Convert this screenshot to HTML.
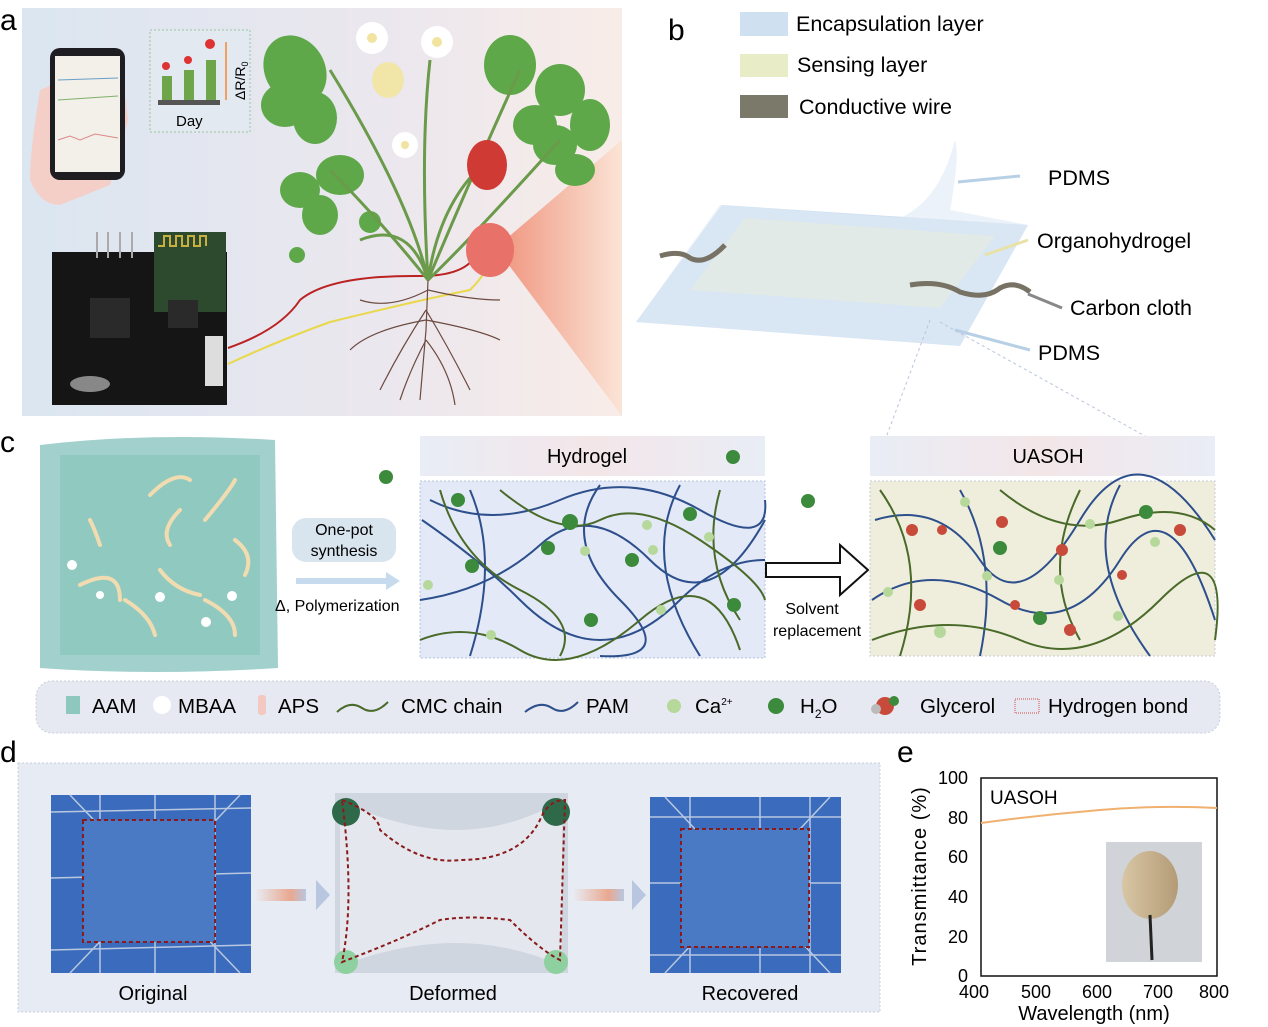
<!DOCTYPE html>
<html><head><meta charset="utf-8"><style>
html,body{margin:0;padding:0;background:#fff;}
svg{display:block;font-family:"Liberation Sans",Arial,sans-serif;}
</style></head><body>
<svg width="1268" height="1027" viewBox="0 0 1268 1027" xmlns="http://www.w3.org/2000/svg">
<defs>
<linearGradient id="abg" x1="0" x2="1" y1="0" y2="0"><stop offset="0" stop-color="#dbe6f1"/><stop offset="0.6" stop-color="#ebe7ee"/><stop offset="1" stop-color="#f8ece8"/></linearGradient>
<linearGradient id="cone" x1="0" x2="1"><stop offset="0" stop-color="#f08a70"/><stop offset="1" stop-color="#fbe3d3"/></linearGradient>
<linearGradient id="hdr" x1="0" x2="1"><stop offset="0" stop-color="#e9edf6"/><stop offset="0.5" stop-color="#f3e6e8"/><stop offset="1" stop-color="#e9edf6"/></linearGradient>
<linearGradient id="arr" x1="0" x2="1"><stop offset="0" stop-color="#e8eef6"/><stop offset="0.7" stop-color="#e9a890"/><stop offset="1" stop-color="#b8c6e0"/></linearGradient>
<linearGradient id="rose" x1="0" x2="1"><stop offset="0" stop-color="#d8c6a4"/><stop offset="1" stop-color="#b49b77"/></linearGradient>
</defs>

<!-- Panel a -->
<rect x="22" y="8" width="600" height="408" fill="url(#abg)"/>
<polygon points="505,240 622,140 622,416 505,260" fill="url(#cone)" opacity="0.85"/>
<text x="0" y="30" font-size="30">a</text>
<path d="M40,90 Q30,150 30,180 Q40,205 60,205 L110,185 L128,120 L120,55 Z" fill="#f4cfc8"/>
<rect x="50" y="48" width="75" height="132" rx="10" fill="#1e1e22"/>
<rect x="55" y="56" width="65" height="116" fill="#f3efe9"/>
<polyline points="58,80 118,78" stroke="#6a9ec8" stroke-width="1" fill="none"/>
<polyline points="58,100 118,96" stroke="#7fb16a" stroke-width="1" fill="none"/>
<polyline points="58,140 70,136 80,140 95,134 118,138" stroke="#d88" stroke-width="1" fill="none"/>
<g fill="#5fa84a">
<ellipse cx="295" cy="70" rx="30" ry="36" transform="rotate(-30 295 70)"/><ellipse cx="285" cy="105" rx="24" ry="22"/><ellipse cx="315" cy="118" rx="22" ry="26"/>
<ellipse cx="340" cy="175" rx="24" ry="20"/><ellipse cx="300" cy="190" rx="20" ry="18"/><ellipse cx="320" cy="215" rx="18" ry="20"/>
<ellipse cx="510" cy="65" rx="26" ry="30"/><ellipse cx="560" cy="90" rx="25" ry="26"/><ellipse cx="535" cy="125" rx="22" ry="20"/>
<ellipse cx="555" cy="145" rx="22" ry="20"/><ellipse cx="590" cy="125" rx="20" ry="26"/><ellipse cx="575" cy="170" rx="20" ry="16"/>
<circle cx="370" cy="222" r="11"/><circle cx="297" cy="255" r="8"/>
</g>
<rect x="150" y="30" width="100" height="102" fill="#e2e9f1" stroke="#9ac49a" stroke-dasharray="2,2"/>
<rect x="158" y="100" width="62" height="5" fill="#555"/>
<rect x="162" y="76" width="10" height="24" fill="#6ea44a"/>
<rect x="184" y="70" width="10" height="30" fill="#6ea44a"/>
<rect x="206" y="60" width="10" height="40" fill="#6ea44a"/>
<circle cx="166" cy="66" r="4" fill="#d33"/><circle cx="188" cy="60" r="4" fill="#d33"/><circle cx="210" cy="44" r="5" fill="#d33"/>
<line x1="226" y1="100" x2="226" y2="42" stroke="#f0a060" stroke-width="2"/>
<text x="176" y="126" font-size="15">Day</text>
<text transform="translate(245,100) rotate(-90)" font-size="14">ΔR/R<tspan font-size="9" dy="3">0</tspan></text>
<rect x="52" y="252" width="175" height="153" fill="#151515"/>
<rect x="154" y="232" width="72" height="80" fill="#2e4a2e"/>
<path d="M158,246 h6 v-10 h6 v10 h6 v-10 h6 v10 h6 v-10 h6 v10 h6 v-10 h6 v10" stroke="#c8b040" fill="none" stroke-width="2"/>
<rect x="90" y="298" width="40" height="40" fill="#2a2a2a"/>
<rect x="168" y="300" width="30" height="28" fill="#2a2a2a"/>
<ellipse cx="90" cy="384" rx="20" ry="8" fill="#888"/>
<rect x="205" y="336" width="18" height="50" fill="#ddd"/>
<line x1="97" y1="232" x2="97" y2="258" stroke="#aaa" stroke-width="2"/><line x1="108" y1="232" x2="108" y2="258" stroke="#aaa" stroke-width="2"/><line x1="120" y1="232" x2="120" y2="258" stroke="#aaa" stroke-width="2"/><line x1="132" y1="232" x2="132" y2="258" stroke="#aaa" stroke-width="2"/>
<path d="M228,348 Q280,330 300,300 Q330,275 420,276 Q470,276 478,250" stroke="#b22" stroke-width="2" fill="none"/>
<path d="M228,364 Q280,340 330,322 Q420,300 470,290 Q490,270 494,250" stroke="#e8d84a" stroke-width="2" fill="none"/>
<g stroke="#6a9a4a" stroke-width="3" fill="none">
<path d="M428,280 Q410,200 330,70"/><path d="M428,280 Q420,150 430,60"/><path d="M428,280 Q470,180 520,70"/><path d="M428,280 Q440,200 488,160"/><path d="M428,280 Q380,220 330,170"/><path d="M428,280 Q470,240 560,140"/><path d="M428,280 Q410,220 360,240"/>
</g>
<ellipse cx="487" cy="165" rx="20" ry="25" fill="#d03a34"/>
<ellipse cx="490" cy="250" rx="24" ry="27" fill="#e8716a"/>
<ellipse cx="388" cy="80" rx="16" ry="18" fill="#f1e6a8"/>
<circle cx="372" cy="38" r="16" fill="#fff"/><circle cx="372" cy="38" r="5" fill="#f0e4a0"/>
<circle cx="437" cy="42" r="16" fill="#fff"/><circle cx="437" cy="42" r="5" fill="#f0e4a0"/>
<circle cx="405" cy="145" r="13" fill="#fff"/><circle cx="405" cy="145" r="4" fill="#f0e4a0"/>
<g stroke="#6b4a40" stroke-width="1.2" fill="none">
<path d="M428,280 L426,330 L420,400"/><path d="M428,290 Q390,310 360,300"/><path d="M428,290 Q470,300 500,300"/><path d="M426,310 Q400,350 380,390"/><path d="M426,310 Q450,350 470,390"/><path d="M426,320 Q370,330 350,350"/><path d="M426,320 Q480,330 500,340"/><path d="M426,340 Q410,370 400,400"/><path d="M426,340 Q450,370 455,405"/>
</g>

<!-- Panel b -->
<text x="668" y="40" font-size="30">b</text>
<rect x="740" y="12" width="48" height="24" fill="#cfe0f0"/><text x="796" y="31" font-size="21.5">Encapsulation layer</text>
<rect x="740" y="54" width="48" height="23" fill="#e8edc8"/><text x="797" y="72" font-size="21.5">Sensing layer</text>
<rect x="740" y="95" width="48" height="23" fill="#7b7a6a"/><text x="799" y="114" font-size="21.5">Conductive wire</text>
<polygon points="636,322 960,346 1028,225 722,205" fill="#d3e2f2"/>
<polygon points="690,290 940,308 995,236 745,218" fill="#e6ead0"/>
<path d="M720,205 L900,218 Q940,200 955,140 Q960,155 950,210 L1028,225 L960,346 L636,322 Z" fill="#dde9f5" opacity="0.6"/>
<path d="M660,256 Q680,250 690,258 Q705,266 725,245" stroke="#777264" stroke-width="5" fill="none"/>
<path d="M910,285 Q940,280 960,292 Q985,300 1000,288 Q1015,280 1030,292" stroke="#777264" stroke-width="5" fill="none"/>
<line x1="1020" y1="176" x2="958" y2="182" stroke="#b8d0e6" stroke-width="3"/><text x="1048" y="185" font-size="21.5">PDMS</text>
<line x1="1028" y1="240" x2="985" y2="255" stroke="#e8e2a8" stroke-width="3"/><text x="1037" y="248" font-size="21.5">Organohydrogel</text>
<line x1="1062" y1="308" x2="1028" y2="294" stroke="#888" stroke-width="3"/><text x="1070" y="315" font-size="21.5">Carbon cloth</text>
<line x1="1030" y1="350" x2="955" y2="330" stroke="#b8d0e6" stroke-width="3"/><text x="1038" y="360" font-size="21.5">PDMS</text>
<line x1="930" y1="320" x2="872" y2="475" stroke="#b8c4dc" stroke-dasharray="3,3"/>
<line x1="940" y1="322" x2="1215" y2="475" stroke="#b8c4dc" stroke-dasharray="3,3"/>

<!-- Panel c -->
<text x="0" y="452" font-size="30">c</text>
<path d="M40,445 Q150,432 275,440 L278,668 Q150,676 40,668 Z" fill="#90c8c4" opacity="0.85"/>
<rect x="60" y="455" width="200" height="200" fill="#86c5b8" opacity="0.6"/>
<g stroke="#f0dcb0" stroke-width="4" fill="none" stroke-linecap="round">
<path d="M150,495 Q175,470 190,480"/><path d="M205,520 Q230,490 235,480"/><path d="M90,520 Q95,530 100,545"/><path d="M235,540 Q255,555 245,575"/><path d="M80,585 Q120,565 120,600"/><path d="M160,570 Q175,590 200,595"/><path d="M125,600 Q150,615 155,635"/><path d="M205,600 Q235,615 235,635"/><path d="M180,510 Q160,530 170,545"/>
</g>
<g fill="#fff"><circle cx="72" cy="565" r="5"/><circle cx="160" cy="597" r="5"/><circle cx="206" cy="622" r="5"/><circle cx="232" cy="596" r="5"/><circle cx="100" cy="595" r="4"/></g>
<rect x="292" y="518" width="104" height="44" rx="14" fill="#d8e4ee"/>
<text x="344" y="535" font-size="16" text-anchor="middle">One-pot</text><text x="344" y="556" font-size="16" text-anchor="middle">synthesis</text>
<rect x="296" y="578" width="90" height="6" fill="#c6dcee"/><polygon points="386,572 400,581 386,590" fill="#c6dcee"/>
<text x="275" y="611" font-size="16">Δ, Polymerization</text>
<rect x="420" y="436" width="345" height="40" fill="url(#hdr)"/>
<text x="587" y="463" font-size="20" text-anchor="middle">Hydrogel</text>
<rect x="420" y="481" width="345" height="177" fill="#e3e9f6" stroke="#b6c2dc" stroke-dasharray="2,2"/>
<g fill="none" stroke-width="2">
<path d="M422,520 Q480,560 520,600 T600,640 T680,600 T765,560" stroke="#2d4f8c"/>
<path d="M430,500 Q490,530 560,500 T700,510 T765,500" stroke="#2d4f8c"/>
<path d="M420,600 Q490,590 540,545 T650,560 T765,520" stroke="#2d4f8c"/>
<path d="M470,490 Q500,560 470,656" stroke="#2d4f8c"/>
<path d="M680,485 Q640,560 700,656" stroke="#2d4f8c"/>
<path d="M600,485 Q560,540 620,600 T600,656" stroke="#2d4f8c"/>
<path d="M440,490 Q460,560 520,590 T560,656" stroke="#4a6a2a"/>
<path d="M500,490 Q560,540 600,520 T700,540 T765,600" stroke="#4a6a2a"/>
<path d="M420,640 Q470,620 520,650 T640,620 T740,650" stroke="#4a6a2a"/>
<path d="M720,490 Q700,560 740,620" stroke="#4a6a2a"/>
</g>
<g fill="#b6d89a"><circle cx="647" cy="525" r="5"/><circle cx="709" cy="537" r="5"/><circle cx="653" cy="550" r="5"/><circle cx="585" cy="551" r="5"/><circle cx="428" cy="585" r="5"/><circle cx="491" cy="635" r="5"/><circle cx="661" cy="610" r="5"/></g>
<g fill="#3c8a3c"><circle cx="458" cy="500" r="7"/><circle cx="570" cy="522" r="8"/><circle cx="548" cy="548" r="7"/><circle cx="472" cy="566" r="7"/><circle cx="632" cy="560" r="7"/><circle cx="690" cy="514" r="7"/><circle cx="734" cy="605" r="7"/><circle cx="591" cy="620" r="7"/><circle cx="386" cy="477" r="7"/><circle cx="733" cy="457" r="7"/><circle cx="808" cy="501" r="7"/></g>
<path d="M766,563 L840,563 L840,545 L868,570 L840,595 L840,577 L766,577 Z" fill="#fff" stroke="#111" stroke-width="2"/>
<text x="812" y="614" font-size="16" text-anchor="middle">Solvent</text>
<text x="817" y="636" font-size="16" text-anchor="middle">replacement</text>
<rect x="870" y="436" width="345" height="40" fill="url(#hdr)"/>
<text x="1048" y="463" font-size="20" text-anchor="middle">UASOH</text>
<rect x="870" y="481" width="345" height="175" fill="#efeedc" stroke="#c6ccd8" stroke-dasharray="2,2"/>
<g fill="none" stroke-width="2">
<path d="M875,520 Q940,500 980,560 T1080,520 T1215,540" stroke="#2d4f8c"/>
<path d="M872,600 Q930,560 1000,600 T1120,560 T1215,620" stroke="#2d4f8c"/>
<path d="M960,490 Q1000,560 980,656" stroke="#2d4f8c"/>
<path d="M1120,485 Q1080,560 1150,656" stroke="#2d4f8c"/>
<path d="M880,490 Q930,560 900,656" stroke="#4a6a2a"/>
<path d="M1000,490 Q1060,540 1120,520 T1215,530" stroke="#4a6a2a"/>
<path d="M872,640 Q950,610 1020,640 T1160,600 T1215,640" stroke="#4a6a2a"/>
<path d="M1080,490 Q1040,570 1080,640" stroke="#4a6a2a"/>
</g>
<g fill="#b6d89a"><circle cx="965" cy="502" r="5"/><circle cx="1090" cy="524" r="5"/><circle cx="1155" cy="542" r="5"/><circle cx="987" cy="576" r="5"/><circle cx="888" cy="592" r="5"/><circle cx="940" cy="632" r="6"/><circle cx="1118" cy="616" r="5"/><circle cx="1059" cy="580" r="5"/></g>
<g fill="#c84a3a"><circle cx="912" cy="530" r="6"/><circle cx="942" cy="530" r="5"/><circle cx="1002" cy="522" r="6"/><circle cx="1062" cy="550" r="6"/><circle cx="1122" cy="575" r="5"/><circle cx="920" cy="605" r="6"/><circle cx="1015" cy="605" r="5"/><circle cx="1070" cy="630" r="6"/><circle cx="1180" cy="530" r="6"/></g>
<g fill="#3c8a3c"><circle cx="1000" cy="548" r="7"/><circle cx="1146" cy="512" r="7"/><circle cx="1040" cy="618" r="7"/></g>
<rect x="36" y="681" width="1184" height="52" rx="16" fill="#e6e9f1" stroke="#c8cede" stroke-dasharray="2,2"/>
<g font-size="20.5">
<rect x="66" y="696" width="14" height="18" fill="#8ec8bc"/><text x="92" y="713">AAM</text>
<circle cx="162" cy="705" r="9" fill="#fff"/><text x="178" y="713">MBAA</text>
<rect x="258" y="695" width="8" height="20" rx="3" fill="#f2c8c0"/><text x="278" y="713">APS</text>
<path d="M337,712 Q350,700 362,708 T388,702" stroke="#4a6a2a" stroke-width="2" fill="none"/><text x="401" y="713">CMC chain</text>
<path d="M525,712 Q540,700 552,708 T578,702" stroke="#2d4f8c" stroke-width="2" fill="none"/><text x="586" y="713">PAM</text>
<circle cx="674" cy="706" r="7" fill="#b6d89a"/><text x="695" y="713">Ca<tspan font-size="10" dy="-8">2+</tspan></text>
<circle cx="776" cy="706" r="8" fill="#3c8a3c"/><text x="800" y="713">H<tspan font-size="12" dy="5">2</tspan><tspan dy="-5">O</tspan></text>
<circle cx="885" cy="706" r="9" fill="#c84a3a"/><circle cx="876" cy="709" r="5" fill="#bbb"/><circle cx="894" cy="701" r="5" fill="#3c8a3c"/><text x="920" y="713">Glycerol</text>
<rect x="1015" y="699" width="24" height="14" fill="none" stroke="#d04a4a" stroke-dasharray="1,1"/><text x="1048" y="713">Hydrogen bond</text>
</g>

<!-- Panel d -->
<text x="0" y="762" font-size="30">d</text>
<rect x="18" y="763" width="862" height="249" fill="#e7ebf3" stroke="#c8cede" stroke-dasharray="2,2"/>
<rect x="51" y="795" width="200" height="178" fill="#3a6bbc"/>
<g stroke="#b8c8e0" stroke-width="1.5"><line x1="51" y1="878" x2="251" y2="873"/><line x1="51" y1="950" x2="251" y2="945"/><line x1="51" y1="812" x2="251" y2="808"/><line x1="100" y1="795" x2="100" y2="973"/><line x1="155" y1="795" x2="155" y2="973"/><line x1="215" y1="795" x2="215" y2="973"/><line x1="70" y1="795" x2="240" y2="973"/><line x1="240" y1="795" x2="70" y2="973"/></g>
<rect x="83" y="820" width="132" height="122" fill="#4a7ac4" stroke="#8b1a1a" stroke-width="2" stroke-dasharray="4,3"/>
<rect x="254" y="889" width="52" height="12" fill="url(#arr)"/><polygon points="316,880 330,895 316,910" fill="#b8c6e0"/>
<rect x="335" y="793" width="233" height="180" fill="#cfd6e0"/>
<path d="M340,800 Q460,860 562,800 L562,966 Q460,920 340,966 Z" fill="#e4e8ee"/>
<circle cx="346" cy="812" r="14" fill="#2e6a4a"/><circle cx="556" cy="812" r="14" fill="#2e6a4a"/><circle cx="346" cy="962" r="12" fill="#8ed0a0"/><circle cx="556" cy="962" r="12" fill="#8ed0a0"/>
<path d="M342,800 Q380,815 380,830 Q420,865 460,860 Q520,860 540,820 Q548,800 565,800 L560,960 Q540,950 510,920 Q470,915 440,920 Q400,940 342,962 Q355,900 342,800 Z" fill="none" stroke="#8b1a1a" stroke-width="2" stroke-dasharray="4,3"/>
<rect x="572" y="889" width="52" height="12" fill="url(#arr)"/><polygon points="632,880 646,895 632,910" fill="#b8c6e0"/>
<rect x="650" y="797" width="191" height="176" fill="#3a6bbc"/>
<g stroke="#b8c8e0" stroke-width="1.5"><line x1="650" y1="883" x2="841" y2="883"/><line x1="650" y1="955" x2="841" y2="955"/><line x1="650" y1="817" x2="841" y2="817"/><line x1="690" y1="797" x2="690" y2="973"/><line x1="760" y1="797" x2="760" y2="973"/><line x1="810" y1="797" x2="810" y2="973"/><line x1="665" y1="797" x2="830" y2="973"/><line x1="830" y1="797" x2="665" y2="973"/></g>
<rect x="681" y="829" width="128" height="118" fill="#4a7ac4" stroke="#8b1a1a" stroke-width="2" stroke-dasharray="4,3"/>
<g font-size="20" text-anchor="middle"><text x="153" y="1000">Original</text><text x="453" y="1000">Deformed</text><text x="750" y="1000">Recovered</text></g>

<!-- Panel e -->
<text x="897" y="762" font-size="30">e</text>
<rect x="981" y="778" width="236" height="198" fill="none" stroke="#111" stroke-width="1.5"/>
<path d="M981,823 Q1040,815 1100,810 T1217,808" stroke="#f0b070" stroke-width="2" fill="none"/>
<text x="990" y="804" font-size="19">UASOH</text>
<rect x="1106" y="842" width="96" height="120" fill="#d0d4d8"/>
<ellipse cx="1150" cy="885" rx="28" ry="34" fill="url(#rose)"/>
<line x1="1150" y1="915" x2="1152" y2="960" stroke="#222" stroke-width="3"/>
<g font-size="18" text-anchor="end"><text x="968" y="784">100</text><text x="968" y="824">80</text><text x="968" y="863">60</text><text x="968" y="903">40</text><text x="968" y="943">20</text><text x="968" y="982">0</text></g>
<g font-size="18" text-anchor="middle"><text x="974" y="998">400</text><text x="1036" y="998">500</text><text x="1097" y="998">600</text><text x="1158" y="998">700</text><text x="1214" y="998">800</text></g>
<text x="1094" y="1020" font-size="20" text-anchor="middle">Wavelength (nm)</text>
<text transform="translate(926,876) rotate(-90)" font-size="20" text-anchor="middle" letter-spacing="1">Transmittance (%)</text>
</svg>
</body></html>
